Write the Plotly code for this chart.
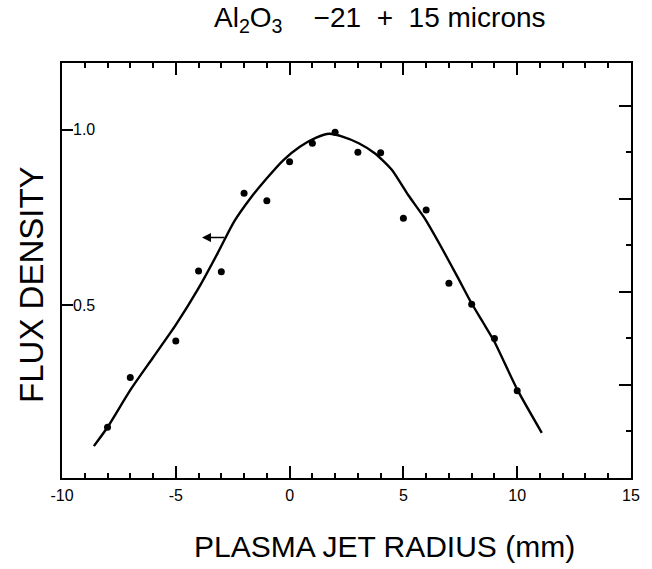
import plotly.graph_objects as go

# measured points
pts_x = [-8, -7, -5, -4, -3, -2, -1, 0, 1, 2, 3, 4, 5, 6, 7, 8, 9, 10]
pts_y = [0.151, 0.293, 0.397, 0.597, 0.595, 0.819, 0.798, 0.909, 0.962, 0.993,
         0.936, 0.935, 0.748, 0.771, 0.562, 0.502, 0.404, 0.255]

# fitted curve
curve_x = [-8.6, -8.0, -7.0, -6.0, -5.0, -4.0, -3.16, -2.44, -1.72, -1.0, -0.27, 0.45,
           1.17, 1.74, 2.32, 3.04, 3.77, 4.49, 5.21, 5.93, 6.65, 7.37, 7.95, 8.5,
           9.0, 10.0, 11.08]
curve_y = [0.097, 0.151, 0.257, 0.35, 0.443, 0.548, 0.648, 0.738, 0.805, 0.862, 0.914, 0.952,
           0.978, 0.989, 0.981, 0.962, 0.932, 0.886, 0.814, 0.748, 0.667, 0.581, 0.51, 0.45,
           0.395, 0.259, 0.135]

x_tickvals = [-10, -5, 0, 5, 10, 15]
x_ticktext = ["-10", "-5", "0", "5", "10", "15"]
y_tickvals = [0.5, 1.0]
y_ticktext = ["0.5", "1.0"]

# arrow marker (tail -> head)
arrow_tail = (-2.8, 0.693)
arrow_head = (-3.85, 0.693)

FONT = "Liberation Sans, Arial, Helvetica, sans-serif"
X_RANGE = [-10.0, 15.0]
Y_RANGE = [0.006, 1.191]

fig = go.Figure()
fig.add_trace(go.Scatter(x=curve_x, y=curve_y, mode="lines",
                         line=dict(color="black", width=2.4, shape="spline", smoothing=0.6),
                         showlegend=False, hoverinfo="skip"))
fig.add_trace(go.Scatter(x=pts_x, y=pts_y, mode="markers",
                         marker=dict(color="black", size=7),
                         showlegend=False))
# invisible helper traces so the overlay axes (extra tick rows / labels) get drawn
fig.add_trace(go.Scatter(x=[0], y=[1], xaxis="x", yaxis="y2", mode="markers",
                         marker=dict(opacity=0), showlegend=False, hoverinfo="skip"))
fig.add_trace(go.Scatter(x=[0], y=[0.5], xaxis="x2", yaxis="y", mode="markers",
                         marker=dict(opacity=0), showlegend=False, hoverinfo="skip"))
fig.add_trace(go.Scatter(x=[0], y=[0.5], xaxis="x", yaxis="y3", mode="markers",
                         marker=dict(opacity=0), showlegend=False, hoverinfo="skip"))

fig.add_annotation(x=arrow_head[0], y=arrow_head[1], ax=arrow_tail[0], ay=arrow_tail[1],
                   xref="x", yref="y", axref="x", ayref="y", text="",
                   showarrow=True, arrowhead=2, arrowsize=1.2, arrowwidth=1.5, arrowcolor="black")

fig.add_annotation(text="Al<sub>2</sub>O<sub>3</sub>\u00a0\u00a0\u00a0\u00a0\u221221\u00a0\u00a0+\u00a0\u00a015\u00a0microns",
                   xref="paper", yref="paper", x=(384 - 62) / 577, y=(478 - 19) / 415,
                   xanchor="center", yanchor="middle", showarrow=False,
                   font=dict(family=FONT, size=28, color="black"))
fig.add_annotation(text="PLASMA JET RADIUS (mm)",
                   xref="paper", yref="paper", x=(389 - 62) / 577, y=(478 - 546) / 415,
                   xanchor="center", yanchor="middle", showarrow=False,
                   font=dict(family=FONT, size=30, color="black"))
fig.add_annotation(text="FLUX DENSITY", textangle=-90,
                   xref="paper", yref="paper", x=(31 - 62) / 577, y=(478 - 284.5) / 415,
                   xanchor="center", yanchor="middle", showarrow=False,
                   font=dict(family=FONT, size=33, color="black"))

fig.update_layout(
    width=652, height=569,
    margin=dict(l=62, r=13, t=63, b=91),
    paper_bgcolor="white", plot_bgcolor="white",
    font=dict(family=FONT, color="black"),
    # frame + tick marks (major every 5, minor every 1), mirrored on top
    xaxis=dict(range=X_RANGE, tickmode="linear", tick0=0, dtick=5,
               ticks="inside", ticklen=12, tickwidth=1.5, tickcolor="black",
               minor=dict(tickmode="linear", tick0=0, dtick=1, ticks="inside", ticklen=5,
                          tickwidth=1.5, tickcolor="black"),
               showticklabels=False,
               showline=True, linecolor="black", linewidth=2, mirror="ticks",
               showgrid=False, zeroline=False),
    # tick labels only (hyphen minus as in the original)
    xaxis2=dict(overlaying="x", anchor="y", side="bottom", range=X_RANGE,
                tickmode="array", tickvals=x_tickvals, ticktext=x_ticktext,
                ticks="", ticklabelstandoff=6, showline=False,
                showgrid=False, zeroline=False,
                tickfont=dict(size=16, family=FONT, color="black")),
    yaxis=dict(range=Y_RANGE, tickmode="array", tickvals=y_tickvals,
               ticks="inside", ticklen=11, tickwidth=1.5, tickcolor="black",
               showticklabels=False, showline=True, linecolor="black", linewidth=2,
               mirror=True, showgrid=False, zeroline=False),
    # tick labels drawn just right of the left frame line
    yaxis3=dict(overlaying="y", anchor="free", position=0, side="right", range=Y_RANGE,
                tickmode="array", tickvals=y_tickvals, ticktext=y_ticktext,
                ticks="", ticklabelstandoff=10,
                showline=False, showgrid=False, zeroline=False,
                tickfont=dict(size=16, family=FONT, color="black")),
    yaxis2=dict(overlaying="y", anchor="x", side="right", range=[0, 8.92],
                tickmode="linear", tick0=0, dtick=2,
                ticks="inside", ticklen=12, tickwidth=1.5, tickcolor="black",
                minor=dict(tickmode="linear", tick0=1, dtick=2, ticks="inside", ticklen=5,
                           tickwidth=1.5, tickcolor="black"),
                showticklabels=False, showline=False, showgrid=False, zeroline=False),
)

fig.write_html("out.html")
